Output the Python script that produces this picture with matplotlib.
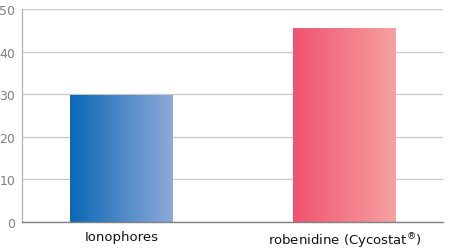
import numpy as np
import matplotlib
matplotlib.use('Agg')
import matplotlib.pyplot as plt
from matplotlib.colors import LinearSegmentedColormap

categories = ['Ionophores', r'robenidine (Cycostat$^{\circledR}$)']
values = [29.8, 45.6]
grad_colors = [('#0a68b6', '#8eaad9'), ('#f0526d', '#f5a2a2')]
yticks = [0, 10, 20, 30, 40, 50]

plt.rcParams['font.family'] = ['DejaVu Sans']
fig = plt.figure(figsize=(4.53, 2.53), dpi=100)
ax = fig.add_axes([22 / 453, 30 / 253, 421 / 453, 213 / 253])

x = np.arange(len(categories))
bars = ax.bar(x, values, width=0.46, color='none', zorder=2)

# gradient fill for each bar
grad = np.linspace(0, 1, 256).reshape(1, -1)
for b, (c0, c1) in zip(bars, grad_colors):
    cmap = LinearSegmentedColormap.from_list('g', [c0, c1])
    x0, y0 = b.get_x(), b.get_y()
    w, h = b.get_width(), b.get_height()
    im = ax.imshow(grad, cmap=cmap, aspect='auto', extent=[x0, x0 + w, y0, y0 + h],
                   zorder=2, interpolation='bilinear')
    im.set_clip_path(b)

ax.set_xlim(-0.445, 1.44)
ax.set_ylim(0, 50)
ax.set_yticks(yticks)
ax.set_xticks(x)
ax.set_xticklabels(categories, fontsize=9.5, color='#111111')
ax.tick_params(axis='y', length=0, labelsize=9, labelcolor='#808080', pad=5)
ax.tick_params(axis='x', length=0, pad=6)
ax.grid(axis='y', color='#c8c8c8', linewidth=0.9, zorder=0)
ax.set_axisbelow(True)
for s in ['top', 'right']:
    ax.spines[s].set_visible(False)
ax.spines['left'].set_color('#b0b0b0')
ax.spines['left'].set_linewidth(0.9)
ax.spines['bottom'].set_color('#808080')
ax.spines['bottom'].set_linewidth(1.0)

fig.savefig('out.png', dpi=100)
